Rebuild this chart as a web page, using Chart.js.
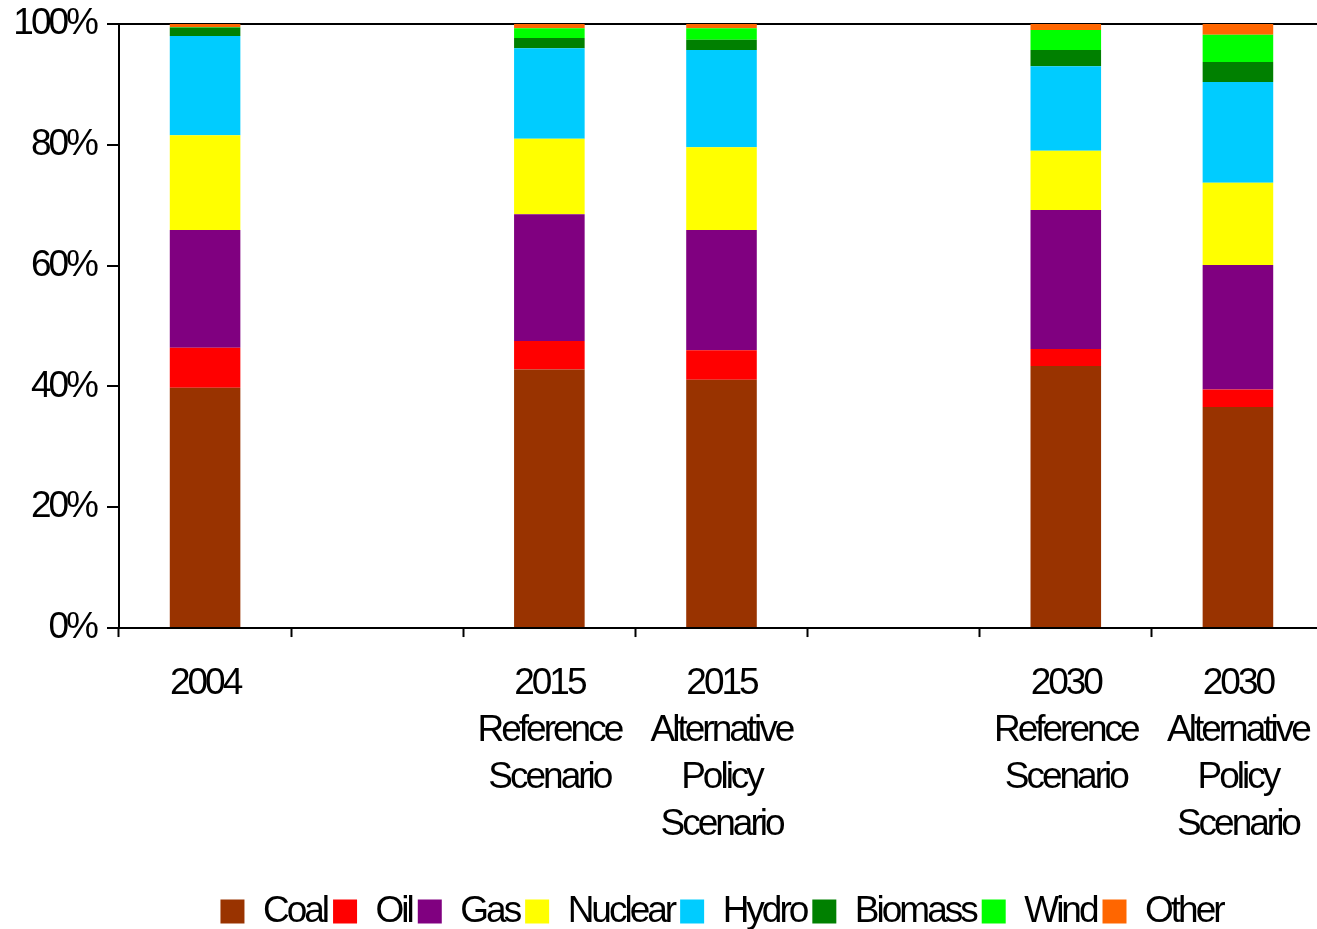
<!DOCTYPE html>
<html>
<head>
<meta charset="utf-8">
<script src="https://cdn.jsdelivr.net/npm/chart.js@4.4.1/dist/chart.umd.min.js"></script>
<style>
  html, body { margin: 0; padding: 0; background: #fff; overflow: hidden; }
  /* the plot runs a little past the right edge, as in the original */
  #wrap { width: 1324px; height: 929px; position: relative; }
</style>
</head>
<body>
<div id="wrap"><canvas id="mixChart"></canvas></div>
<script>
// categories (empty slots keep the gaps between groups)
const categories = [
    ['2004'],
    '',
    ['2015', 'Reference', 'Scenario'],
    ['2015', 'Alternative', 'Policy', 'Scenario'],
    '',
    ['2030', 'Reference', 'Scenario'],
    ['2030', 'Alternative', 'Policy', 'Scenario']
];

// shares in %
const coal    = [39.8, null, 42.8, 41.1, null, 43.4, 36.6];
const oil     = [6.6,  null, 4.7,  4.9,  null, 2.8,  2.9];
const gas     = [19.5, null, 21.0, 19.9, null, 23.0, 20.6];
const nuclear = [15.7, null, 12.5, 13.7, null, 9.8,  13.6];
const hydro   = [16.4, null, 15.0, 16.1, null, 14.0, 16.7];
const biomass = [1.4,  null, 1.7,  1.7,  null, 2.7,  3.3];
const wind    = [0.1,  null, 1.6,  1.9,  null, 3.3,  4.5];
const other   = [0.5,  null, 0.7,  0.7,  null, 1.0,  1.8];

const yTicks = [0, 20, 40, 60, 80, 100];

const FONT = "'Liberation Sans', Arial, sans-serif";

const series = [
    { label: 'Coal',    data: coal,    color: '#993300' },
    { label: 'Oil',     data: oil,     color: '#ff0000' },
    { label: 'Gas',     data: gas,     color: '#800080' },
    { label: 'Nuclear', data: nuclear, color: '#ffff00' },
    { label: 'Hydro',   data: hydro,   color: '#00ccff' },
    { label: 'Biomass', data: biomass, color: '#008000' },
    { label: 'Wind',    data: wind,    color: '#00ff00' },
    { label: 'Other',   data: other,   color: '#ff6600' }
];

// the original text is set tight, so squeeze the letters a bit
const tightText = {
    id: 'tightText',
    beforeInit: (chart) => { chart.ctx.letterSpacing = '-3px'; },
    beforeUpdate: (chart) => { chart.ctx.letterSpacing = '-3px'; },
    beforeLayout: (chart) => { chart.ctx.letterSpacing = '-3px'; },
    beforeDraw: (chart) => { chart.ctx.letterSpacing = '-3px'; }
};

const ctx = document.getElementById('mixChart').getContext('2d');

new Chart(ctx, {
    type: 'bar',
    data: {
        labels: categories,
        datasets: series.map(s => ({
            label: s.label,
            data: s.data,
            backgroundColor: s.color,
            borderWidth: 0,
            barPercentage: 0.41,
            categoryPercentage: 1.0
        }))
    },
    plugins: [tightText],
    options: {
        responsive: true,
        maintainAspectRatio: false,
        animation: false,
        layout: {
            autoPadding: false,
            padding: { top: 24, right: 0, left: 0, bottom: -11 }
        },
        plugins: {
            legend: {
                position: 'bottom',
                fullSize: false,
                labels: {
                    boxWidth: 24,
                    boxHeight: 24,
                    padding: 6,
                    color: '#000',
                    font: { family: FONT, size: 37 }
                }
            },
            tooltip: { enabled: false }
        },
        scales: {
            x: {
                stacked: true,
                afterFit: (scale) => {
                    scale.height += 16;
                    scale.paddingLeft = 0;
                    scale.paddingRight = 0;
                },
                grid: {
                    offset: true,
                    drawOnChartArea: false,
                    drawTicks: true,
                    tickLength: 9,
                    tickColor: '#000',
                    tickWidth: 2
                },
                border: { display: true, color: '#000', width: 2 },
                ticks: {
                    autoSkip: false,
                    maxRotation: 0,
                    minRotation: 0,
                    padding: 23,
                    color: '#000',
                    font: { family: FONT, size: 37, lineHeight: 1.27 }
                }
            },
            y: {
                stacked: true,
                min: 0,
                max: 100,
                afterFit: (scale) => {
                    scale.width = 119;
                    scale.paddingTop = 0;
                    scale.paddingBottom = 0;
                },
                afterBuildTicks: (scale) => {
                    scale.ticks = yTicks.map(v => ({ value: v }));
                },
                grid: {
                    color: (c) => (c.tick && c.tick.value === 100 ? '#000' : 'rgba(0,0,0,0)'),
                    lineWidth: 2,
                    drawTicks: true,
                    tickLength: 12,
                    tickColor: '#000',
                    tickWidth: 2
                },
                border: { display: true, color: '#000', width: 2 },
                ticks: {
                    padding: 11,
                    color: '#000',
                    font: { family: FONT, size: 37 },
                    callback: (v) => v + '%'
                }
            }
        }
    }
});
</script>
</body>
</html>
